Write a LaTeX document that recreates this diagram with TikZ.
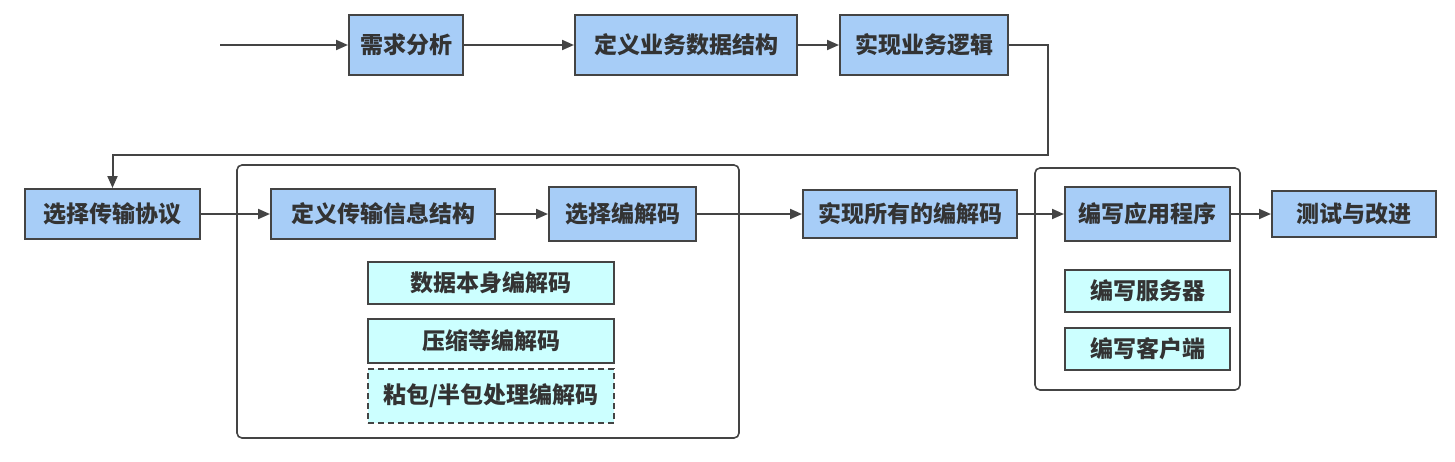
\documentclass[tikz,border=0pt]{standalone}
\usepackage{fontspec}
\newfontfamily\cjk{Noto Sans CJK SC}
\usepackage{tikz}
\usetikzlibrary{arrows.meta,positioning}

\definecolor{stepblue}{HTML}{A7CDF7}
\definecolor{subcyan}{HTML}{CCFFFF}
\definecolor{edgegray}{HTML}{444444}
\definecolor{txtgray}{HTML}{333333}

\begin{document}
\begin{tikzpicture}[
  x=0.5pt, y=-0.5pt,
  font=\cjk\bfseries\fontsize{11.5}{14}\selectfont,
  stepbox/.style={rectangle, draw=edgegray, fill=stepblue, line width=1pt,
              inner sep=0pt, text=txtgray, align=center},
  subbox/.style={stepbox, fill=subcyan},
  grp/.style={draw=edgegray, line width=0.8pt, rounded corners=2.5pt},
  arr/.style={-{Triangle[length=6pt,width=5pt]}, line width=1pt, draw=edgegray},
]
\useasboundingbox (0,0) rectangle (1455,461);
% containers
\draw[grp] (237,165) rectangle (739,438);
\draw[grp] (1035,168) rectangle (1240,390);
% first row
\node[stepbox, minimum width=57pt, minimum height=30pt] (req) at (406,45) {需求分析};
\node[stepbox, minimum width=111pt, minimum height=30pt] (dstruct) at (686,45) {定义业务数据结构};
\node[stepbox, minimum width=84pt, minimum height=30pt] (logic) at (924,45) {实现业务逻辑};
% second row
\node[stepbox, minimum width=87.5pt, minimum height=25pt] (proto) at (112.5,214) {选择传输协议};
\node[stepbox, minimum width=112pt, minimum height=25pt] (msg) at (383,214) {定义传输信息结构};
\node[stepbox, minimum width=73.5pt, minimum height=27pt] (codec) at (622.5,214) {选择编解码};
\node[stepbox, minimum width=107pt, minimum height=24pt] (allcodec) at (910,214) {实现所有的编解码};
\node[stepbox, minimum width=82.5pt, minimum height=27pt] (app) at (1147.5,214) {编写应用程序};
\node[stepbox, minimum width=82pt, minimum height=23pt] (test) at (1354,214) {测试与改进};
% codec parts
\node[subbox, minimum width=123pt, minimum height=21pt] (data) at (491,283) {数据本身编解码};
\node[subbox, minimum width=123pt, minimum height=22pt] (zip) at (491,341) {压缩等编解码};
\node[subbox, dash pattern=on 3pt off 2pt, minimum width=123pt, minimum height=27pt] (stick) at (491,396) {粘包/半包处理编解码};
% app parts
\node[subbox, minimum width=82.5pt, minimum height=21pt] (server) at (1147.5,291) {编写服务器};
\node[subbox, minimum width=82.5pt, minimum height=21pt] (client) at (1147.5,349) {编写客户端};
% connectors
\coordinate (start) at (220,45);
\coordinate (turn) at (1048,155);
\draw[arr] (start) -- (req.west);
\draw[arr] (req) -- (dstruct);
\draw[arr] (dstruct) -- (logic);
\draw[arr] (logic.east) -| (turn) -| (proto.north);
\draw[arr] (proto) -- (msg);
\draw[arr] (msg) -- (codec);
\draw[arr] (codec) -- (allcodec);
\draw[arr] (allcodec) -- (app);
\draw[arr] (app) -- (test);
\end{tikzpicture}
\end{document}
